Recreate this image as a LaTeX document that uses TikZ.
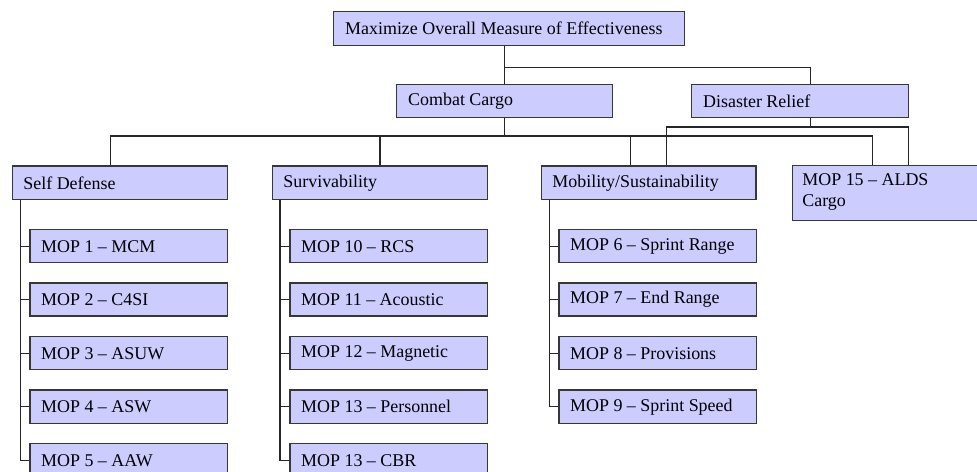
\documentclass[tikz,border=0pt]{standalone}
\usepackage{fontspec}
\setmainfont{Liberation Serif}
\definecolor{boxfill}{RGB}{204,204,255}
\definecolor{boxedge}{RGB}{55,55,55}
\begin{document}
\begin{tikzpicture}[x=1bp,y=-1bp,
  box/.style={draw=boxedge, fill=boxfill, line width=1.4bp, inner sep=0pt, anchor=north west, minimum height=33bp},
  lbl/.style={anchor=west, inner sep=0pt, font=\fontsize{18}{21}\selectfont, text=black, align=left},
  conn/.style={draw=black!85, line width=1.2bp}]
\useasboundingbox (0,0) rectangle (977,472);
\clip (0,0) rectangle (977,472);
% top levels
\node[box, minimum width=351bp, minimum height=34bp] (top) at (333,11) {};
\node[lbl] at ([xshift=12bp]top.west) {Maximize Overall Measure of Effectiveness};
\node[box, minimum width=216bp] (cc) at (396,84) {};
\node[lbl] at ([xshift=12bp]cc.west) {Combat Cargo};
\node[box, minimum width=217bp] (dr) at (691,84) {};
\node[lbl] at ([xshift=12bp]dr.west) {Disaster Relief};
% level 2
\node[box, minimum width=215bp, minimum height=33.5bp] (sd) at (11.7,165.5) {};
\node[lbl] at ([xshift=11.5bp]sd.west) {Self Defense};
\node[box, minimum width=215bp, minimum height=33.5bp] (sv) at (271.7,165.5) {};
\node[lbl] at ([xshift=11.5bp]sv.west) {Survivability};
\node[box, minimum width=214.6bp, minimum height=33.5bp] (mob) at (540.7,165.5) {};
\node[lbl] at ([xshift=11.5bp]mob.west) {Mobility/Sustainability};
\node[box, minimum width=196bp, minimum height=55bp] (m15) at (791.7,165) {};
\node[lbl] at ([xshift=10.5bp,yshift=1bp]m15.west) {MOP 15 -- ALDS\\Cargo};
% children
\foreach \n/\px/\lst in {sd/29.3/{MOP 1 -- MCM,MOP 2 -- C4SI,MOP 3 -- ASUW,MOP 4 -- ASW,MOP 5 -- AAW},
                         sv/289.3/{MOP 10 -- RCS,MOP 11 -- Acoustic,MOP 12 -- Magnetic,MOP 13 -- Personnel,MOP 13 -- CBR},
                         mob/558.3/{MOP 6 -- Sprint Range,MOP 7 -- End Range,MOP 8 -- Provisions,MOP 9 -- Sprint Speed}}{
  \foreach \t [count=\i] in \lst {
    \node[box, minimum width=197.4bp] (\n\i) at (\px,{229+53.5*(\i-1)}) {};
    \node[lbl] at ([xshift=11.7bp]\n\i.west) {\t};
  }
}
% connectors: top
\draw[conn] (top.south -| cc.north) -- (cc.north);
\draw[conn] (top.south -| cc.north) ++(0,21) -| ([xshift=10bp]dr.north);
% combat cargo bus
\draw[conn] (cc.south) -- ++(0,19);
\draw[conn] ([xshift=-9.2bp]sd.north) -- ++(0,-29.5) -| ([xshift=-18bp]m15.north);
\draw[conn] (sv.north) -- ++(0,-29.5);
\draw[conn] ([xshift=-18bp]mob.north) -- ++(0,-29.5);
% disaster relief bus
\draw[conn] ([xshift=10bp]dr.south) -- ++(0,10);
\draw[conn] ([xshift=18bp]mob.north) -- ++(0,-38.5) -| ([xshift=18bp]m15.north);
% spines
\coordinate (sdsp) at ([xshift=9bp]sd.south west);
\coordinate (svsp) at ([xshift=8.3bp]sv.south west);
\coordinate (mobsp) at ([xshift=8.6bp]mob.south west);
\draw[conn] (sdsp) |- (sd5.west);
\draw[conn] (svsp) |- (sv5.west);
\draw[conn] (mobsp) |- (mob4.west);
\foreach \i in {1,...,4}{
  \draw[conn] (sd\i.west -| sdsp) -- (sd\i.west);
  \draw[conn] (sv\i.west -| svsp) -- (sv\i.west);
}
\foreach \i in {1,...,3}{
  \draw[conn] (mob\i.west -| mobsp) -- (mob\i.west);
}
\end{tikzpicture}
\end{document}
